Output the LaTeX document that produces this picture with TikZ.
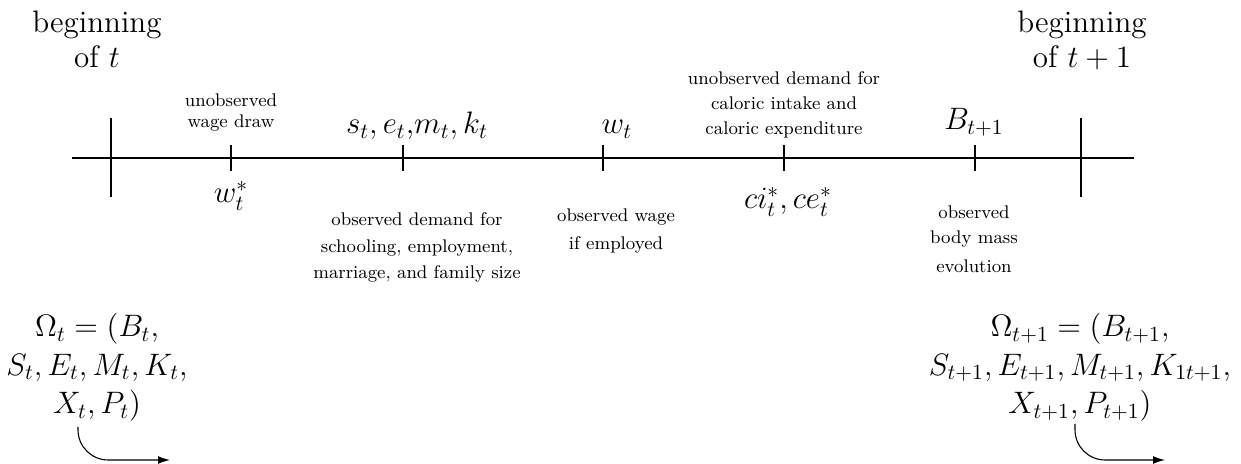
\documentclass[tikz,border=0pt]{standalone}
\usetikzlibrary{arrows.meta}
\begin{document}
\begin{tikzpicture}[x=0.464pt,y=-0.464pt,
  big/.style={font=\Large,inner sep=0pt,anchor=base,align=center},
  small/.style={font=\fontsize{8.5}{10.2}\selectfont,inner sep=0pt,anchor=base,align=center},
  axis/.style={line width=0.6pt},
  flow/.style={line width=0.5pt,rounded corners=14pt,-{Latex[length=5.5pt,width=3.6pt]}}]
\useasboundingbox (0,0) rectangle (1241,464);
% axis
\coordinate (L) at (72,158);
\coordinate (R) at (1134,158);
\draw[axis] (L) -- (R);
% big ticks
\coordinate (b1t) at (111,118); \coordinate (b1b) at (111,197);
\coordinate (b2t) at (1081,118); \coordinate (b2b) at (1081,197);
\draw[axis] (b1t) -- (b1b);
\draw[axis] (b2t) -- (b2b);
% small ticks
\foreach \n/\x in {t1/231,t2/403,t3/603,t4/784,t5/975}{
  \coordinate (\n a) at (\x,145); \coordinate (\n b) at (\x,171);
  \draw[axis] (\n a) -- (\n b);
}
% top labels (anchors at the baseline of the last line)
\node[big] (begL) at (97,68) {beginning\\[-1.3pt]of $t$};
\node[big] (begR) at (1082,68) {beginning\\[-1.3pt]of $t+1$};
\node[small] (uw) at (231,128) {unobserved\\wage draw};
\node[big] (set) at (417,134) {$s_t, e_t$,$m_t, k_t$};
\node[big] (wt) at (617,134) {$w_t$};
\node[small] (ud) at (784,135) {unobserved demand for\\[1.6pt]caloric intake and\\[1.6pt]caloric expenditure};
\node[big] (Bt) at (974,130) {$B_{t+1}$};
% bottom labels
\node[big] (ws) at (231,203) {$w_t^*$};
\node[small] (od) at (417,279) {observed demand for\\[2.1pt]schooling, employment,\\[2.1pt]marriage, and family size};
\node[small] (ow) at (616,250) {observed wage\\[2.8pt]if employed};
\node[big] (ci) at (788,209) {$ci_t^*, ce_t^*$};
\node[small] (ob) at (974,273) {observed\\[1.4pt]body mass\\[3.7pt]evolution};
% state vectors
\node[big] (OmL) at (97,414) {$\Omega_t = (B_t,$\\$S_t, E_t, M_t, K_t,$\\$X_t, P_t)$};
\node[big] (OmR) at (1080,414) {$\Omega_{t+1} = (B_{t+1},$\\$S_{t+1}, E_{t+1}, M_{t+1}, K_{1t+1},$\\$X_{t+1}, P_{t+1})$};
% arrows
\coordinate (aLs) at (78,427); \coordinate (aLe) at (170,460);
\coordinate (aRs) at (1075,424); \coordinate (aRe) at (1165,460);
\draw[flow] (aLs) |- (aLe);
\draw[flow] (aRs) |- (aRe);
\end{tikzpicture}
\end{document}
